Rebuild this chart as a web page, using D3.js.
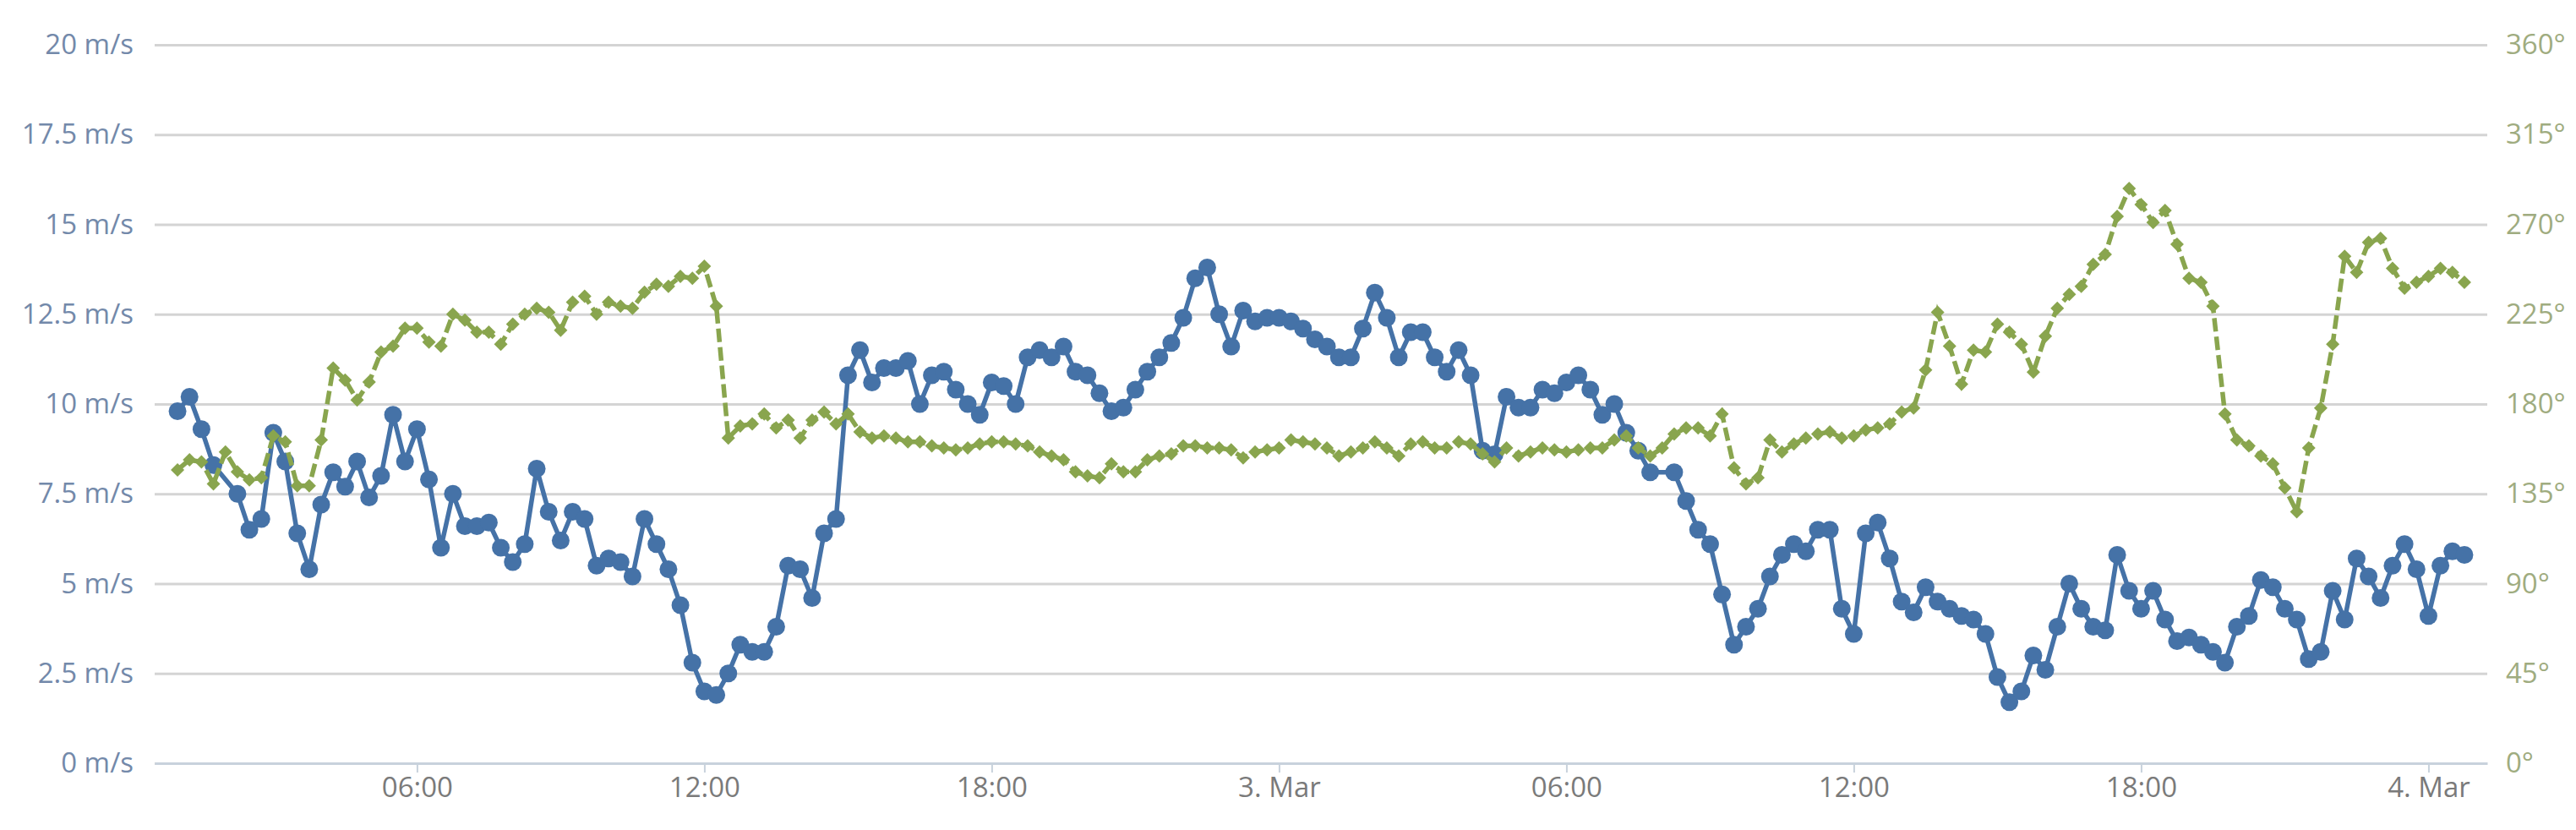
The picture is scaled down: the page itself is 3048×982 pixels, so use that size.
<!DOCTYPE html>
<html>
<head>
<meta charset="utf-8">
<script src="https://cdn.jsdelivr.net/npm/d3@7"></script>
<style>
	body { margin: 0; background: #fff; }
	svg { display: block; }
</style>
</head>
<body>
<svg id="chart" width="3048" height="982"></svg>
<script>
// readings every 15 minutes, starting 2 Mar 01:00
var startTime = new Date(2013, 2, 2, 1, 0);
var stepMinutes = 15;

// wind speed, m/s (null = no reading)
var speed = [
	9.8, 10.2, 9.3, 8.3, null, 7.5, 6.5, 6.8, 9.2, 8.4, 6.4, 5.4, 7.2, 8.1, 7.7, 8.4,
	7.4, 8.0, 9.7, 8.4, 9.3, 7.9, 6.0, 7.5, 6.6, 6.6, 6.7, 6.0, 5.6, 6.1, 8.2, 7.0,
	6.2, 7.0, 6.8, 5.5, 5.7, 5.6, 5.2, 6.8, 6.1, 5.4, 4.4, 2.8, 2.0, 1.9, 2.5, 3.3,
	3.1, 3.1, 3.8, 5.5, 5.4, 4.6, 6.4, 6.8, 10.8, 11.5, 10.6, 11.0, 11.0, 11.2, 10.0, 10.8,
	10.9, 10.4, 10.0, 9.7, 10.6, 10.5, 10.0, 11.3, 11.5, 11.3, 11.6, 10.9, 10.8, 10.3, 9.8, 9.9,
	10.4, 10.9, 11.3, 11.7, 12.4, 13.5, 13.8, 12.5, 11.6, 12.6, 12.3, 12.4, 12.4, 12.3, 12.1, 11.8,
	11.6, 11.3, 11.3, 12.1, 13.1, 12.4, 11.3, 12.0, 12.0, 11.3, 10.9, 11.5, 10.8, 8.7, 8.6, 10.2,
	9.9, 9.9, 10.4, 10.3, 10.6, 10.8, 10.4, 9.7, 10.0, 9.2, 8.7, 8.1, null, 8.1, 7.3, 6.5,
	6.1, 4.7, 3.3, 3.8, 4.3, 5.2, 5.8, 6.1, 5.9, 6.5, 6.5, 4.3, 3.6, 6.4, 6.7, 5.7,
	4.5, 4.2, 4.9, 4.5, 4.3, 4.1, 4.0, 3.6, 2.4, 1.7, 2.0, 3.0, 2.6, 3.8, 5.0, 4.3,
	3.8, 3.7, 5.8, 4.8, 4.3, 4.8, 4.0, 3.4, 3.5, 3.3, 3.1, 2.8, 3.8, 4.1, 5.1, 4.9,
	4.3, 4.0, 2.9, 3.1, 4.8, 4.0, 5.7, 5.2, 4.6, 5.5, 6.1, 5.4, 4.1, 5.5, 5.9, 5.8
];

// wind direction, degrees
var direction = [
	147, 152, 151, 140, 156, 146, 142, 143, 164, 161, 139, 139, 162, 198, 192, 182,
	191, 206, 209, 218, 218, 211, 209, 225, 222, 216, 216, 210, 220, 225, 228, 226,
	217, 231, 234, 225, 231, 229, 228, 236, 240, 239, 244, 243, 249, 229, 163, 169,
	170, 175, 168, 172, 163, 172, 176, 170, 175, 166, 163, 164, 163, 161, 161, 159,
	158, 157, 158, 160, 161, 161, 160, 159, 156, 154, 152, 146, 144, 143, 150, 146,
	146, 152, 154, 155, 159, 159, 158, 158, 157, 153, 156, 157, 158, 162, 161, 160,
	158, 154, 156, 158, 161, 158, 154, 160, 161, 158, 158, 161, 160, 155, 151, 158,
	154, 156, 158, 157, 156, 157, 158, 158, 162, 164, 158, 154, 158, 165, 168, 168,
	164, 175, 148, 140, 143, 162, 156, 160, 163, 165, 166, 163, 164, 167, 168, 170,
	176, 178, 197, 226, 209, 190, 207, 206, 220, 216, 210, 196, 214, 228, 235, 239,
	250, 255, 274, 288, 280, 271, 277, 260, 243, 241, 229, 175, 162, 159, 154, 150,
	138, 126, 158, 178, 210, 254, 246, 261, 263, 248, 238, 241, 244, 248, 246, 241
];

var speedTicks = [0, 2.5, 5, 7.5, 10, 12.5, 15, 17.5, 20];
var dirTicks = [0, 45, 90, 135, 180, 225, 270, 315, 360];

var speedColor = "#4572A7";
var dirColor = "#89A54E";

var svg = d3.select("#chart");
var plotLeft = 183, plotRight = 2943, plotTop = 53, plotBottom = 903;

var points = speed.map(function(v, i) {
	return { t: d3.timeMinute.offset(startTime, i * stepMinutes), speed: v, dir: direction[i] };
});

var t0 = points[0].t, t1 = points[points.length - 1].t;
var pad = (t1 - t0) * 0.01;
var x = d3.scaleTime()
	.domain([new Date(+t0 - pad), new Date(+t1 + pad)])
	.range([plotLeft, plotRight]);
var ySpeed = d3.scaleLinear().domain([0, 20]).range([plotBottom, plotTop]);
var yDir = d3.scaleLinear().domain([0, 360]).range([plotBottom, plotTop]);

var font = "'Open Sans', 'DejaVu Sans', sans-serif";

// left axis + grid
var gLeft = svg.append("g")
	.attr("transform", "translate(" + plotLeft + ",0)")
	.call(d3.axisLeft(ySpeed)
		.tickValues(speedTicks)
		.tickSize(-(plotRight - plotLeft))
		.tickPadding(25)
		.tickFormat(function(d) { return d + " m/s"; }));
gLeft.select(".domain").remove();
gLeft.selectAll("line").attr("stroke", "#d4d4d4").attr("stroke-width", 3);
gLeft.attr("font-family", font).attr("font-size", 33);
gLeft.selectAll("text").attr("fill", "#7389aa");

// right axis
var gRight = svg.append("g")
	.attr("transform", "translate(" + plotRight + ",0)")
	.call(d3.axisRight(yDir)
		.tickValues(dirTicks)
		.tickSize(0)
		.tickPadding(22)
		.tickFormat(function(d) { return d + "°"; }));
gRight.select(".domain").remove();
gRight.attr("font-family", font).attr("font-size", 33);
gRight.selectAll("text").attr("fill", "#9fac80");

// time axis
var fmtHour = d3.timeFormat("%H:%M"), fmtDay = d3.timeFormat("%-d. %b");
var gX = svg.append("g")
	.attr("transform", "translate(0," + plotBottom + ")")
	.call(d3.axisBottom(x)
		.ticks(d3.timeHour.every(6))
		.tickSizeInner(11)
		.tickSizeOuter(0)
		.tickPadding(6)
		.tickFormat(function(d) { return d.getHours() === 0 ? fmtDay(d) : fmtHour(d); }));
gX.attr("font-family", font).attr("font-size", 33);
gX.select(".domain").attr("stroke", "#c8d2dc").attr("stroke-width", 3);
gX.selectAll(".tick line").attr("stroke", "#c8d2dc").attr("stroke-width", 2);
gX.selectAll("text").attr("fill", "#7a7a7a");

// wind speed series
var speedPts = points.filter(function(d) { return d.speed != null; });
svg.append("path")
	.datum(speedPts)
	.attr("fill", "none")
	.attr("stroke", speedColor)
	.attr("stroke-width", 5.5)
	.attr("stroke-linejoin", "round")
	.attr("d", d3.line().x(function(d) { return x(d.t); }).y(function(d) { return ySpeed(d.speed); }));

svg.append("g").selectAll("circle")
	.data(speedPts)
	.enter().append("circle")
	.attr("cx", function(d) { return x(d.t); })
	.attr("cy", function(d) { return ySpeed(d.speed); })
	.attr("r", 10.5)
	.attr("fill", speedColor);

// wind direction series
svg.append("path")
	.datum(points)
	.attr("fill", "none")
	.attr("stroke", dirColor)
	.attr("stroke-width", 5.5)
	.attr("stroke-dasharray", "16,6")
	.attr("d", d3.line().x(function(d) { return x(d.t); }).y(function(d) { return yDir(d.dir); }));

var diamond = d3.symbol().type(d3.symbolSquare).size(2 * 8 * 8);
svg.append("g").selectAll("path")
	.data(points)
	.enter().append("path")
	.attr("d", diamond)
	.attr("transform", function(d) { return "translate(" + x(d.t) + "," + yDir(d.dir) + ") rotate(45)"; })
	.attr("fill", dirColor);
</script>
</body>
</html>
